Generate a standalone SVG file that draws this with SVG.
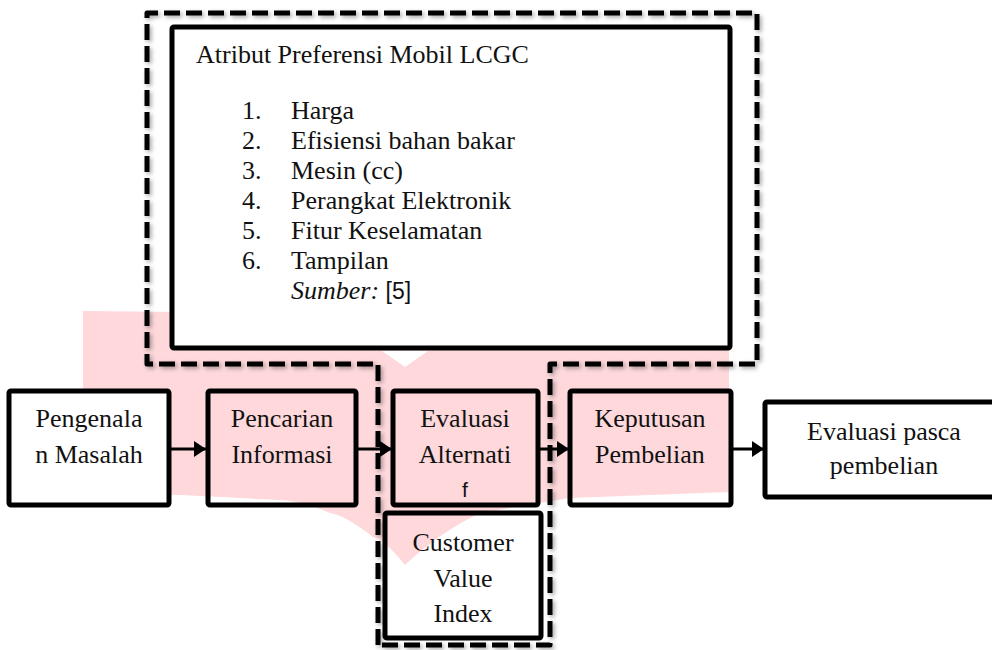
<svg xmlns="http://www.w3.org/2000/svg" width="992" height="650" viewBox="0 0 992 650">
<style>
.box{fill:none;stroke:#000;stroke-width:5;stroke-linejoin:round}
.wbox{fill:#fff;stroke:#000;stroke-width:5;stroke-linejoin:round}
.t{font-family:"Liberation Serif","Times New Roman",serif;font-size:26px;fill:#111}
.c{text-anchor:middle}
.s{font-family:"Liberation Sans",Arial,sans-serif;fill:#111}
.dash{fill:none;stroke:#000;stroke-width:5;stroke-dasharray:16 6;stroke-linejoin:round}
.arr{stroke:#000;stroke-width:3;fill:none}
</style>
<defs>
<filter id="sh" x="-5%" y="-5%" width="110%" height="110%">
<feDropShadow dx="2" dy="2" stdDeviation="2" flood-color="#000" flood-opacity="0.35"/>
</filter>
<marker id="ah" viewBox="0 0 12 16" refX="12" refY="8" markerWidth="12" markerHeight="16" markerUnits="userSpaceOnUse" orient="auto">
<path d="M0,0 L12,8 L0,16 Z" fill="#000"/>
</marker>
</defs>
<rect width="992" height="650" fill="#fff"/>
<g id="watermark">
<path d="M83,311 L729,318 L729,492 L570,498 L480,513 Q440,532 405,565 Q385,540 373,537 Q345,515 330,513 Q300,500 280,500 L180,495 L83,493 Z" fill="#fed8db"/>
<path d="M382,351 L428,351 L405,367 Z" fill="#fff"/>
</g>
<g id="outer-frame">
<path class="dash" filter="url(#sh)" d="M378,645 L378,364 L147,364 L147,13 L757,13 L757,364 L550,364 L550,645 Z"/>
</g>
<g id="atribut">
<rect class="wbox" x="172" y="27" width="558" height="321" rx="2"/>
<text class="t" x="196" y="63">Atribut Preferensi Mobil LCGC</text>
<text class="t" x="242" y="119">1.</text><text class="t" x="291" y="119">Harga</text>
<text class="t" x="242" y="149">2.</text><text class="t" x="291" y="149">Efisiensi bahan bakar</text>
<text class="t" x="242" y="179">3.</text><text class="t" x="291" y="179">Mesin (cc)</text>
<text class="t" x="242" y="209">4.</text><text class="t" x="291" y="209">Perangkat Elektronik</text>
<text class="t" x="242" y="239">5.</text><text class="t" x="291" y="239">Fitur Keselamatan</text>
<text class="t" x="242" y="269">6.</text><text class="t" x="291" y="269">Tampilan</text>
<text class="t" x="291" y="299"><tspan font-style="italic">Sumber:</tspan> <tspan class="s" font-size="23">[5]</tspan></text>
</g>
<g id="connectors">
<line class="arr" x1="169" y1="449" x2="206" y2="449" marker-end="url(#ah)"/>
<line class="arr" x1="356" y1="449" x2="392" y2="449" marker-end="url(#ah)"/>
<line class="arr" x1="538" y1="449" x2="569" y2="449" marker-end="url(#ah)"/>
<line class="arr" x1="731" y1="449" x2="764" y2="449" marker-end="url(#ah)"/>
</g>
<g id="pengenalan">
<rect class="wbox" x="9" y="391" width="160" height="114" rx="2"/>
<text class="t c" x="89" y="427">Pengenala</text>
<text class="t c" x="89" y="463">n Masalah</text>
</g>
<g id="pencarian">
<rect class="box" x="208" y="391" width="148" height="114" rx="2"/>
<text class="t c" x="282" y="427">Pencarian</text>
<text class="t c" x="282" y="463">Informasi</text>
</g>
<g id="evaluasi-alternatif">
<rect class="box" x="393" y="391" width="145" height="114" rx="2"/>
<text class="t c" x="465" y="427">Evaluasi</text>
<text class="t c" x="465" y="463">Alternati</text>
<text class="s c" x="465" y="497" font-size="21">f</text>
</g>
<g id="customer-value-index">
<rect class="box" x="385" y="513" width="156" height="125" rx="2"/>
<text class="t c" x="463" y="551">Customer</text>
<text class="t c" x="463" y="587">Value</text>
<text class="t c" x="463" y="622">Index</text>
</g>
<g id="keputusan">
<rect class="box" x="570" y="391" width="161" height="114" rx="2"/>
<text class="t c" x="650" y="427">Keputusan</text>
<text class="t c" x="650" y="463">Pembelian</text>
</g>
<g id="evaluasi-pasca">
<rect class="wbox" x="765" y="402" width="240" height="95" rx="2"/>
<text class="t c" x="884" y="440">Evaluasi pasca</text>
<text class="t c" x="884" y="474">pembelian</text>
</g>
</svg>
